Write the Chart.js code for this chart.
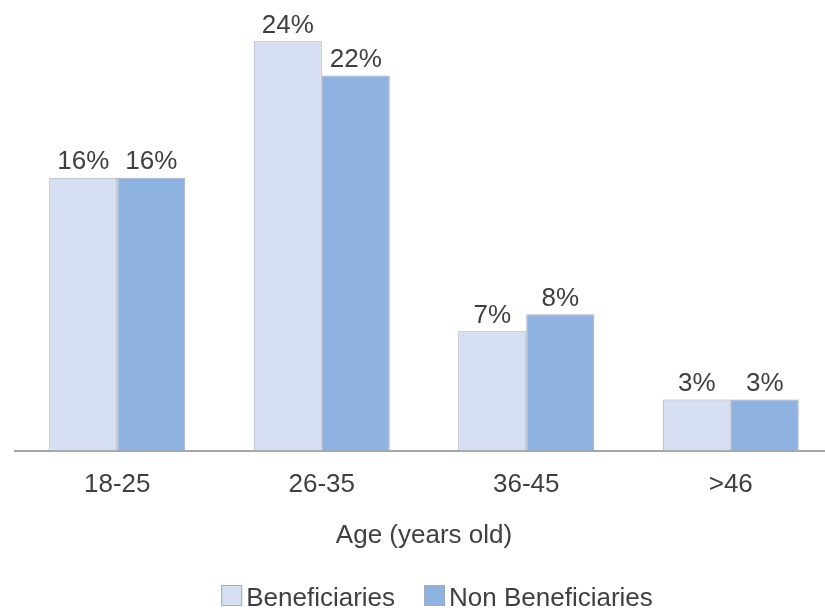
<!DOCTYPE html>
<html>
<head>
<meta charset="utf-8">
<script src="https://cdn.jsdelivr.net/npm/chart.js@4"></script>
<style>
	html, body { margin: 0; padding: 0; overflow: hidden; background: #fff; }
	#wrap { width: 825px; height: 612px; overflow: hidden; }
</style>
</head>
<body>
<div id="wrap"><canvas id="myChart" width="848" height="612"></canvas></div>
<script>
var age_groups = ['18-25', '26-35', '36-45', '>46'];
var beneficiaries = [16, 24, 7, 3];
var non_beneficiaries = [16, 22, 8, 3];
var series_names = ['Beneficiaries', 'Non Beneficiaries'];

var text_color = '#404040';
var font_family = "'Liberation Sans', Arial, sans-serif";
var fill_light = 'rgb(214, 222, 242)';
var fill_dark = 'rgb(143, 179, 224)';
var edge = 'rgb(166, 170, 178)';

/* percent value over each bar */
var barLabels = {
	id: 'barLabels',
	afterDatasetsDraw: function(chart) {
		var ctx = chart.ctx;
		ctx.save();
		ctx.font = '26px ' + font_family;
		ctx.fillStyle = text_color;
		ctx.textAlign = 'center';
		ctx.textBaseline = 'alphabetic';
		chart.data.datasets.forEach(function(ds, i) {
			chart.getDatasetMeta(i).data.forEach(function(bar, j) {
				ctx.fillText(ds.data[j] + '%', bar.x, bar.y - 8.5);
			});
		});
		ctx.restore();
	}
};

/* legend below the axis title, boxes sit tight against the text */
var bottomLegend = {
	id: 'bottomLegend',
	afterDraw: function(chart) {
		var ctx = chart.ctx;
		var box = 21, gap = 4, spacing = 29;
		ctx.save();
		ctx.font = '26px ' + font_family;
		var widths = chart.data.datasets.map(function(ds) {
			return box + gap + ctx.measureText(ds.label).width;
		});
		var total = widths.reduce(function(a, b) { return a + b; }, 0) + spacing * (widths.length - 1);
		var x = 437 - total / 2;
		var baseline = 606;
		chart.data.datasets.forEach(function(ds, i) {
			ctx.fillStyle = ds.backgroundColor;
			ctx.strokeStyle = ds.borderColor;
			ctx.lineWidth = 1;
			ctx.fillRect(x, baseline - box, box, box);
			ctx.strokeRect(x + 0.5, baseline - box + 0.5, box - 1, box - 1);
			ctx.fillStyle = text_color;
			ctx.textBaseline = 'alphabetic';
			ctx.fillText(ds.label, x + box + gap, baseline);
			x += widths[i] + spacing;
		});
		ctx.restore();
	}
};

var ctx = document.getElementById('myChart').getContext('2d');
var chart = new Chart(ctx, {
	type: 'bar',
	data: {
		labels: age_groups,
		datasets: [{
			label: series_names[0],
			data: beneficiaries,
			backgroundColor: fill_light,
			borderColor: edge,
			borderWidth: 1
		}, {
			label: series_names[1],
			data: non_beneficiaries,
			backgroundColor: fill_dark,
			borderColor: edge,
			borderWidth: 1
		}]
	},
	options: {
		responsive: false,
		animation: false,
		layout: {
			padding: { left: 15, right: 15, top: 0, bottom: 61 }
		},
		datasets: {
			bar: { barPercentage: 1, categoryPercentage: 0.665 }
		},
		plugins: {
			legend: { display: false },
			tooltip: { enabled: false }
		},
		scales: {
			x: {
				grid: { display: false, drawTicks: false },
				border: { display: true, color: 'rgb(166, 166, 166)', width: 2 },
				ticks: {
					color: text_color,
					padding: 19,
					font: { family: font_family, size: 26 }
				},
				title: {
					display: true,
					text: 'Age (years old)',
					color: text_color,
					padding: { top: 0, bottom: 0 },
					font: { family: font_family, size: 26 }
				}
			},
			y: {
				display: false,
				min: 0,
				max: 26.42
			}
		}
	},
	plugins: [barLabels, bottomLegend]
});
</script>
</body>
</html>
